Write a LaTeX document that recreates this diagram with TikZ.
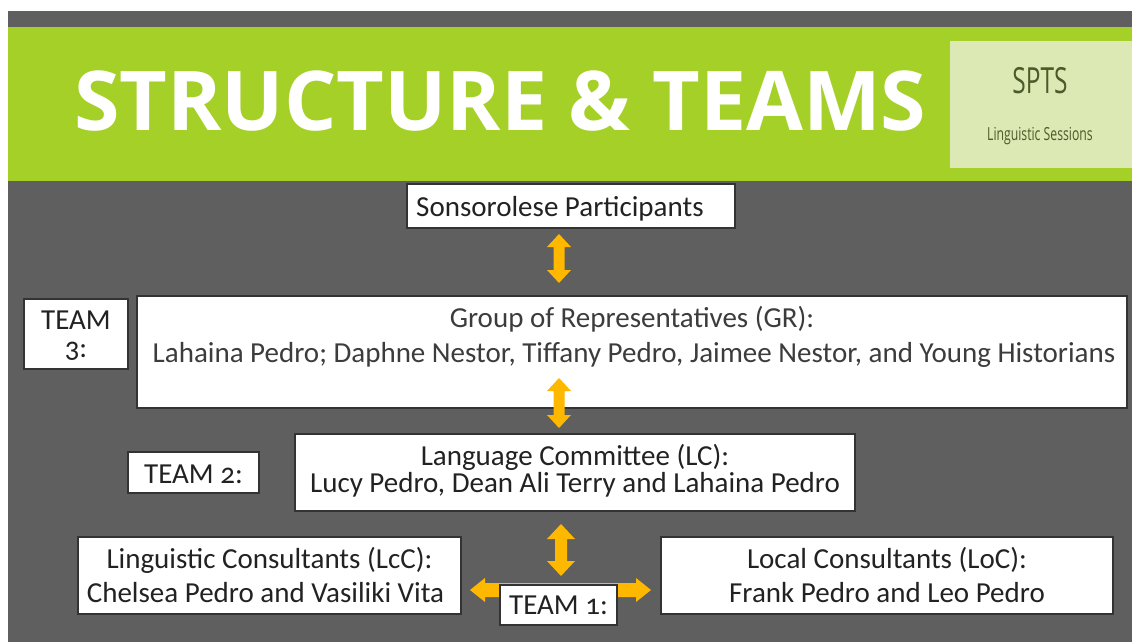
\documentclass[tikz,border=0pt]{standalone}
\usepackage{fontspec}
\setmainfont{Carlito}[Numbers=OldStyle]
\newfontfamily\titlefont{Open Sans}
\newfontfamily\condfont{Open Sans}[FakeStretch=0.68]
\definecolor{bg}{HTML}{5F5F5F}
\definecolor{lime}{HTML}{A5D027}
\definecolor{pale}{HTML}{DDE9B5}
\definecolor{gold}{HTML}{FFB800}
\definecolor{edge}{HTML}{333333}
\definecolor{ink}{HTML}{222222}
\definecolor{inkgr}{HTML}{3C3C3C}
\definecolor{olive}{HTML}{4B5A2A}
\newcommand\myvarrow[6]{% cx, top, bottom, half head, half shaft, head length
  \fill[gold] (#1,#2) -- (#1+#4,#2+#6) -- (#1+#5,#2+#6) -- (#1+#5,#3-#6) -- (#1+#4,#3-#6) -- (#1,#3)
    -- (#1-#4,#3-#6) -- (#1-#5,#3-#6) -- (#1-#5,#2+#6) -- (#1-#4,#2+#6) -- cycle;}
\newcommand\myharrow[6]{% cy, left, right, half head, half shaft, head length
  \fill[gold] (#2,#1) -- (#2+#6,#1-#4) -- (#2+#6,#1-#5) -- (#3-#6,#1-#5) -- (#3-#6,#1-#4) -- (#3,#1)
    -- (#3-#6,#1+#4) -- (#3-#6,#1+#5) -- (#2+#6,#1+#5) -- (#2+#6,#1+#4) -- cycle;}
\begin{document}
\begin{tikzpicture}[x=1pt,y=-1pt,
  box/.style={draw=edge, line width=2.4pt, fill=white, inner sep=0pt},
  txt/.style={font=\fontsize{29}{34}\selectfont, text=ink, inner sep=0pt, anchor=base},
  txtgr/.style={txt, text=inkgr}]
\useasboundingbox (0,0) rectangle (1132,642);
\fill[white] (0,0) rectangle (1132,642);
\fill[bg] (8,11) rectangle (1132,642);
\fill[lime] (8,27) rectangle (1132,181);
\fill[pale] (950,41) rectangle (1132,168);
\node[anchor=base west, inner sep=0pt, text=white, font=\titlefont\bfseries\fontsize{82.5}{90}\selectfont] (title) at (74,130) {STRUCTURE \& TEAMS};
\node[anchor=base, inner sep=0pt, text=olive, font=\condfont\fontsize{36}{40}\selectfont] (spts) at (1040,93) {SPTS};
\node[anchor=base, inner sep=0pt, text=olive, font=\condfont\fontsize{18}{20}\selectfont] (ls) at (1040,140) {Linguistic Sessions};
% boxes
\node[box, minimum width=328pt, minimum height=44pt] (sp) at (571,206) {};
\node[txt, anchor=base west] (spt) at (416,216) {Sonsorolese Participants};
\myvarrow{559}{234}{283}{12}{5.5}{13}
\node[box, minimum width=104pt, minimum height=70pt] (t3) at (76,334) {};
\node[txt] (t3a) at (76,329) {TEAM};
\node[txt] (t3b) at (76,357) {3:};
\node[box, minimum width=990pt, minimum height=112pt] (gr) at (632,352) {};
\node[txtgr] (gra) at (632,327) {Group of Representatives (GR):};
\node[txtgr] (grb) at (634,362) {Lahaina Pedro; Daphne Nestor, Tiffany Pedro, Jaimee Nestor, and Young Historians};
\myvarrow{559}{378}{428}{12}{5.5}{13}
\node[box, minimum width=131pt, minimum height=41pt] (t2) at (193.5,472.5) {};
\node[txt] (t2a) at (193.5,483) {TEAM 2:};
\node[box, minimum width=560pt, minimum height=77pt] (lc) at (575,472.5) {};
\node[txt] (lca) at (575,465) {Language Committee (LC):};
\node[txt] (lcb) at (575,492) {Lucy Pedro, Dean Ali Terry and Lahaina Pedro};
\myvarrow{561}{524}{576}{14}{6}{15}
\node[box, minimum width=383pt, minimum height=77pt] (lcc) at (269.5,575.5) {};
\node[txt] (lcca) at (269.5,568) {Linguistic Consultants (LcC):};
\node[txt] (lccb) at (265.5,602) {Chelsea Pedro and Vasiliki Vita};
\node[box, minimum width=452pt, minimum height=77pt] (loc) at (887,575.5) {};
\node[txt] (loca) at (887,568) {Local Consultants (LoC):};
\node[txt] (locb) at (887,602) {Frank Pedro and Leo Pedro};
\myharrow{590}{470}{651}{12}{7}{15}
\node[box, minimum width=117pt, minimum height=40pt] (t1) at (558.5,605) {};
\node[txt] (t1a) at (558.5,614) {TEAM 1:};
\end{tikzpicture}
\end{document}
